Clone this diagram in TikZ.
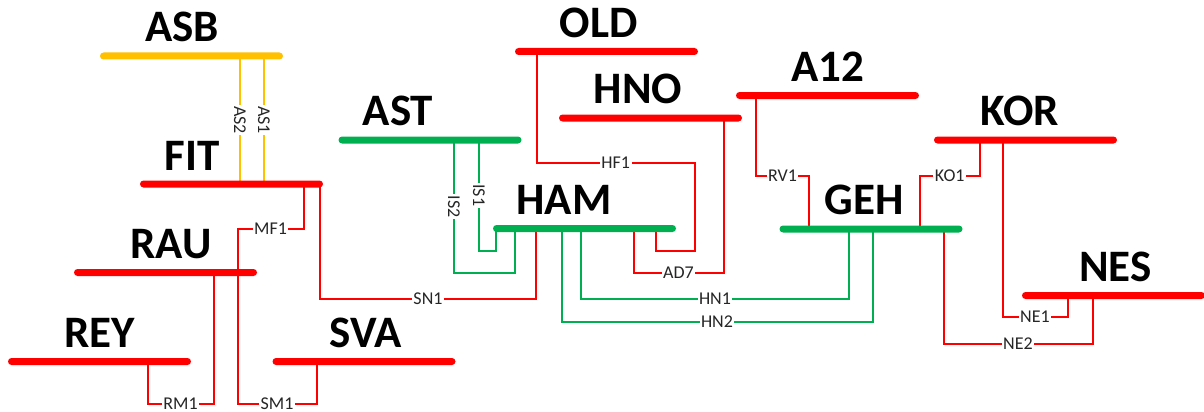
\documentclass[tikz,border=0pt]{standalone}
\usepackage{fontspec}
\setmainfont{Carlito}
\usepackage{tikz}
\usetikzlibrary{positioning, calc}
\pgfdeclarelayer{background}
\pgfsetlayers{background,main}
\definecolor{busred}{HTML}{FF0000}
\definecolor{busgreen}{HTML}{00B050}
\definecolor{busyellow}{HTML}{FFC000}

\begin{document}
\begin{tikzpicture}[x=1pt, y=-1pt,
    bus/.style={rectangle, rounded corners=3.5pt, minimum width=183pt, minimum height=7pt, inner sep=0pt},
    redbus/.style={bus, fill=busred},
    greenbus/.style={bus, fill=busgreen},
    yellowbus/.style={bus, fill=busyellow},
    busname/.style={font=\fontsize{45}{54}\selectfont\bfseries, inner sep=0pt},
    rlink/.style={draw=busred, line width=2pt},
    glink/.style={draw=busgreen, line width=2pt},
    ylink/.style={draw=busyellow, line width=2pt},
    lbl/.style={font=\fontsize{18}{20}\selectfont, fill=white, inner xsep=1.5pt, inner ysep=0pt, text=black!85}]
            \useasboundingbox (0,0) rectangle (1204,412);

            \node[yellowbus] (ASB) at (191.5, 56) {};
            \node[redbus] (FIT) at (231.5, 184) {};
            \node[redbus] (RAU) at (165.5, 272.5) {};
            \node[redbus] (REY) at (99.5, 361.5) {};
            \node[redbus] (SVA) at (364, 361.5) {};
            \node[greenbus] (AST) at (430, 140) {};
            \node[redbus] (OLD) at (606.5, 51.5) {};
            \node[redbus] (HNO) at (650.5, 118) {};
            \node[greenbus] (HAM) at (584.5, 228.5) {};
            \node[redbus] (A12) at (827.5, 95.5) {};
            \node[greenbus] (GEH) at (871, 229) {};
            \node[redbus] (KOR) at (1025.5, 140) {};
            \node[redbus] (NES) at (1113.5, 295.5) {};

            \node[busname, above=10pt of ASB, xshift=-9.5pt] (ASBt) {ASB};
            \node[busname, above=10pt of FIT, xshift=-39.5pt] (FITt) {FIT};
            \node[busname, above=10pt of RAU, xshift=5.5pt] (RAUt) {RAU};
            \node[busname, above=10pt of REY] (REYt) {REY};
            \node[busname, above=10pt of SVA, xshift=1.5pt] (SVAt) {SVA};
            \node[busname, above=10pt of AST, xshift=-32pt] (ASTt) {AST};
            \node[busname, above=10pt of OLD, xshift=-8pt] (OLDt) {OLD};
            \node[busname, above=10pt of HNO, xshift=-12.5pt] (HNOt) {HNO};
            \node[busname, above=10pt of HAM, xshift=-20.5pt] (HAMt) {HAM};
            \node[busname, above=10pt of A12] (A12t) {A12};
            \node[busname, above=10pt of GEH, xshift=-7pt] (GEHt) {GEH};
            \node[busname, above=10pt of KOR, xshift=-5.5pt] (KORt) {KOR};
            \node[busname, above=10pt of NES, xshift=2pt] (NESt) {NES};

            \begin{pgfonlayer}{background}
            \draw[ylink] ($(ASB)+(48.5,0)$) -- node[lbl, rotate=-90] {AS2} ($(FIT)+(8.5,0)$);
            \draw[ylink] ($(ASB)+(72.5,0)$) -- node[lbl, rotate=-90] {AS1} ($(FIT)+(32.5,0)$);
            \draw[rlink] ($(FIT)+(72,0)$) -- ++(0,45) -| node[lbl, pos=.25] {MF1} ($(RAU)+(72,0)$);
            \draw[rlink] ($(RAU)+(72,0)$) -- ++(0,131.5) -| node[lbl, pos=.25] {SM1} ($(SVA)+(-47.5,0)$);
            \draw[rlink] ($(RAU)+(48,0)$) -- ++(0,131.5) -| node[lbl, pos=.25] {RM1} ($(REY)+(48,0)$);
            \draw[rlink] ($(FIT)+(88.5,0)$) -- ++(0,115) -| node[lbl, pos=.25] {SN1} ($(HAM)+(-48.5,0)$);
            \draw[glink] ($(AST)+(49,0)$) -- node[lbl, rotate=-90] {IS1} ++(0,110.5) -| ($(HAM)+(-88.5,0)$);
            \draw[glink] ($(AST)+(24,0)$) -- node[lbl, rotate=-90] {IS2} ++(0,133) -| ($(HAM)+(-70,0)$);
            \draw[rlink] ($(OLD)+(-70,0)$) -- ++(0,111) -- node[lbl] {HF1} ++(158.5,0) -- ++(0,88) -| ($(HAM)+(71.5,0)$);
            \draw[rlink] ($(HNO)+(73,0)$) -- ++(0,155) -| node[lbl, pos=.25] {AD7} ($(HAM)+(49,0)$);
            \draw[glink] ($(HAM)+(-3.5,0)$) -- ++(0,70.5) -| node[lbl, pos=.25] {HN1} ($(GEH)+(-22,0)$);
            \draw[glink] ($(HAM)+(-23,0)$) -- ++(0,93.5) -| node[lbl, pos=.25] {HN2} ($(GEH)+(1.5,0)$);
            \draw[rlink] ($(A12)+(-71.5,0)$) -- ++(0,80.5) -| node[lbl, pos=.25] {RV1} ($(GEH)+(-62,0)$);
            \draw[rlink] ($(KOR)+(-46,0)$) -- ++(0,36) -| node[lbl, pos=.25] {KO1} ($(GEH)+(49,0)$);
            \draw[rlink] ($(KOR)+(-23,0)$) -- ++(0,177) -| node[lbl, pos=.25] {NE1} ($(NES)+(-46,0)$);
            \draw[rlink] ($(GEH)+(72.5,0)$) -- ++(0,115) -| node[lbl, pos=.25] {NE2} ($(NES)+(-21,0)$);
            \end{pgfonlayer}
        \end{tikzpicture}
\end{document}
